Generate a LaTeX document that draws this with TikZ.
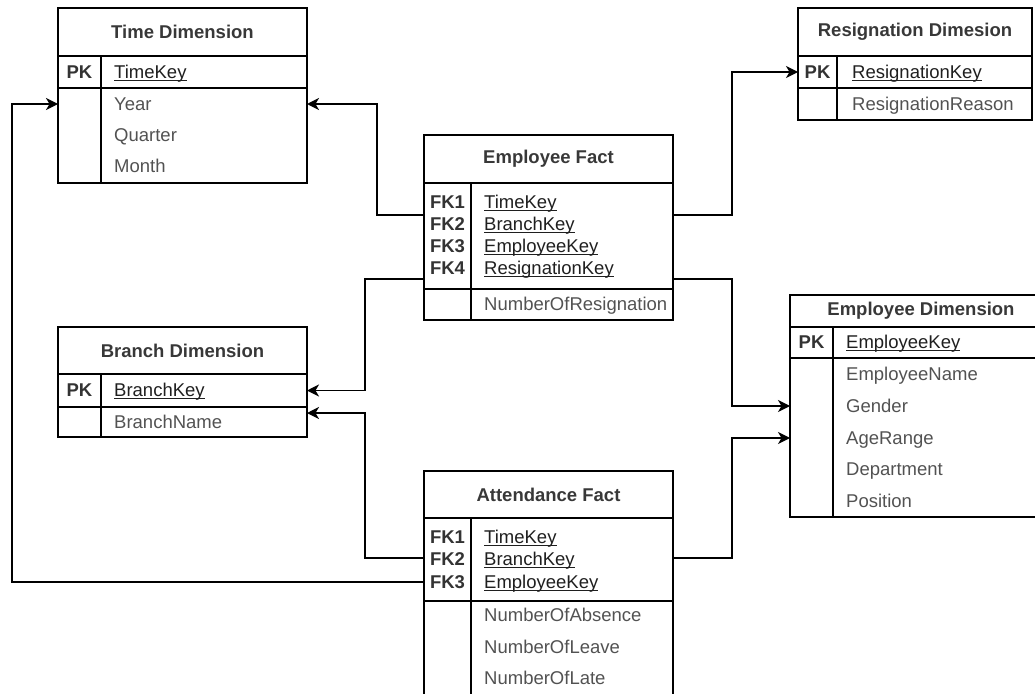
\documentclass[tikz,border=0pt]{standalone}
\usepackage{fontspec}
\setmainfont{Liberation Sans}
\usetikzlibrary{positioning,arrows.meta}

\newcommand{\tblsize}{\fontsize{18.5}{22}\selectfont}
\newcommand{\keyname}[1]{\setbox0\hbox{#1}\rlap{\rule[-2.6pt]{\wd0}{1.2pt}}\box0}

\tikzset{
  tbltitle/.style={draw, line width=1.3pt, outer sep=0pt, inner sep=0pt, anchor=north west,
    font=\tblsize\bfseries, text=black!78},
  tblpart/.style={draw, line width=1.3pt, outer sep=0pt, inner sep=0pt},
  keytag/.style={font=\tblsize\bfseries, text=black!80, inner sep=0pt, text height=13pt, text depth=0pt},
  field/.style={font=\tblsize, text=black!68, inner sep=0pt, anchor=west, text height=13pt, text depth=0pt},
  keyfield/.style={field, text=black!88},
  link/.style={line width=1.4pt, -{Stealth[length=12pt,width=12pt,inset=3.5pt]}}
}

\begin{document}
\begin{tikzpicture}[x=1pt, y=-1pt]
	  \path[use as bounding box, clip] (0,0) rectangle (1035,693);

	  \node[tbltitle, minimum width=249pt, minimum height=48pt] (time) at (58,8) {Time Dimension};
	  \node[tblpart, minimum width=249pt, minimum height=32pt, below=0pt of time] (timekeys) {};
	  \node[tblpart, minimum width=249pt, minimum height=95pt, below=0pt of timekeys] (timeattrs) {};
	  \draw[line width=1.3pt] (timekeys.north west) ++(43,0) coordinate (timediv) -- (timediv |- timeattrs.south);
	  \node[keytag] (timepk) at (79.5,72) {PK};
	  \node[keyfield] (timekey) at (114,72) {\keyname{TimeKey}};
	  \node[field] (year) at (114,104) {Year};
	  \node[field] (quarter) at (114,135) {Quarter};
	  \node[field] (month) at (114,166) {Month};

	  \node[tbltitle, minimum width=234pt, minimum height=48pt] (resign) at (798,8) {Resignation Dimesion};
	  \node[tblpart, minimum width=234pt, minimum height=32pt, below=0pt of resign] (rskeys) {};
	  \node[tblpart, minimum width=234pt, minimum height=32pt, below=0pt of rskeys] (rsattrs) {};
	  \draw[line width=1.3pt] (rskeys.north west) ++(39,0) coordinate (rsdiv) -- (rsdiv |- rsattrs.south);
	  \node[keytag] (rspk) at (817.5,72) {PK};
	  \node[keyfield] (resignkey) at (852,72) {\keyname{ResignationKey}};
	  \node[field] (reason) at (852,104) {ResignationReason};

	  \node[tbltitle, minimum width=249pt, minimum height=48pt] (empfact) at (424,135) {Employee Fact};
	  \node[tblpart, minimum width=249pt, minimum height=106pt, below=0pt of empfact] (efkeys) {};
	  \node[tblpart, minimum width=249pt, minimum height=31pt, below=0pt of efkeys] (efattrs) {};
	  \draw[line width=1.3pt] (efkeys.north west) ++(47,0) coordinate (efdiv) -- (efdiv |- efattrs.south);
	  \node[keytag] (effk1) at (447.5,202) {FK1};
	  \node[keytag] (effk2) at (447.5,224) {FK2};
	  \node[keytag] (effk3) at (447.5,246) {FK3};
	  \node[keytag] (effk4) at (447.5,268) {FK4};
	  \node[keyfield] (eftime) at (484,202) {\keyname{TimeKey}};
	  \node[keyfield] (efbranch) at (484,224) {\keyname{BranchKey}};
	  \node[keyfield] (efemp) at (484,246) {\keyname{EmployeeKey}};
	  \node[keyfield] (efresign) at (484,268) {\keyname{ResignationKey}};
	  \node[field] (numresign) at (484,304) {NumberOfResignation};

	  \node[tbltitle, minimum width=262pt, minimum height=32pt] (empdim) at (790,295) {Employee Dimension};
	  \node[tblpart, minimum width=262pt, minimum height=31pt, below=0pt of empdim] (edkeys) {};
	  \node[tblpart, minimum width=262pt, minimum height=159pt, below=0pt of edkeys] (edattrs) {};
	  \draw[line width=1.3pt] (edkeys.north west) ++(43,0) coordinate (eddiv) -- (eddiv |- edattrs.south);
	  \node[keytag] (edpk) at (811.5,342) {PK};
	  \node[keyfield] (empkey) at (846,342) {\keyname{EmployeeKey}};
	  \node[field] (empname) at (846,374) {EmployeeName};
	  \node[field] (gender) at (846,406) {Gender};
	  \node[field] (agerange) at (846,438) {AgeRange};
	  \node[field] (dept) at (846,469) {Department};
	  \node[field] (position) at (846,501) {Position};

	  \node[tbltitle, minimum width=249pt, minimum height=47pt] (branch) at (58,327) {Branch Dimension};
	  \node[tblpart, minimum width=249pt, minimum height=33pt, below=0pt of branch] (brkeys) {};
	  \node[tblpart, minimum width=249pt, minimum height=30pt, below=0pt of brkeys] (brattrs) {};
	  \draw[line width=1.3pt] (brkeys.north west) ++(43,0) coordinate (brdiv) -- (brdiv |- brattrs.south);
	  \node[keytag] (brpk) at (79.5,390) {PK};
	  \node[keyfield] (branchkey) at (114,390) {\keyname{BranchKey}};
	  \node[field] (branchname) at (114,422) {BranchName};

	  \node[tbltitle, minimum width=249pt, minimum height=47pt] (attfact) at (424,471) {Attendance Fact};
	  \node[tblpart, minimum width=249pt, minimum height=83pt, below=0pt of attfact] (afkeys) {};
	  \node[tblpart, minimum width=249pt, minimum height=120pt, below=0pt of afkeys] (afattrs) {};
	  \draw[line width=1.3pt] (afkeys.north west) ++(47,0) coordinate (afdiv) -- (afdiv |- afattrs.south);
	  \node[keytag] (affk1) at (447.5,537) {FK1};
	  \node[keytag] (affk2) at (447.5,559) {FK2};
	  \node[keytag] (affk3) at (447.5,582) {FK3};
	  \node[keyfield] (aftime) at (484,537) {\keyname{TimeKey}};
	  \node[keyfield] (afbranch) at (484,559) {\keyname{BranchKey}};
	  \node[keyfield] (afemp) at (484,582) {\keyname{EmployeeKey}};
	  \node[field] (absence) at (484,615) {NumberOfAbsence};
	  \node[field] (leave) at (484,647) {NumberOfLeave};
	  \node[field] (late) at (484,678) {NumberOfLate};

	  \draw[link] ([yshift=-32pt]efkeys.north west) -- ++(-47,0) |- (timeattrs.east |- year);
	  \draw[link] ([yshift=10pt]efkeys.south west) -- ++(-59,0) |- (brkeys.east);
	  \draw[link] ([yshift=-40pt]afkeys.north west) -- ++(-59,0) |- ([yshift=-6pt]brattrs.north east);
	  \draw[link] ([yshift=19pt]afkeys.south west) -- ++(-412,0) |- (timeattrs.west |- year);
	  \draw[link] ([yshift=-32pt]efkeys.north east) -- ++(59,0) |- (rskeys.west);
	  \draw[link] ([yshift=10pt]efkeys.south east) -- ++(59,0) |- (edattrs.west |- gender);
	  \draw[link] ([yshift=-40pt]afkeys.north east) -- ++(59,0) |- (edattrs.west |- agerange);
	\end{tikzpicture}
\end{document}
